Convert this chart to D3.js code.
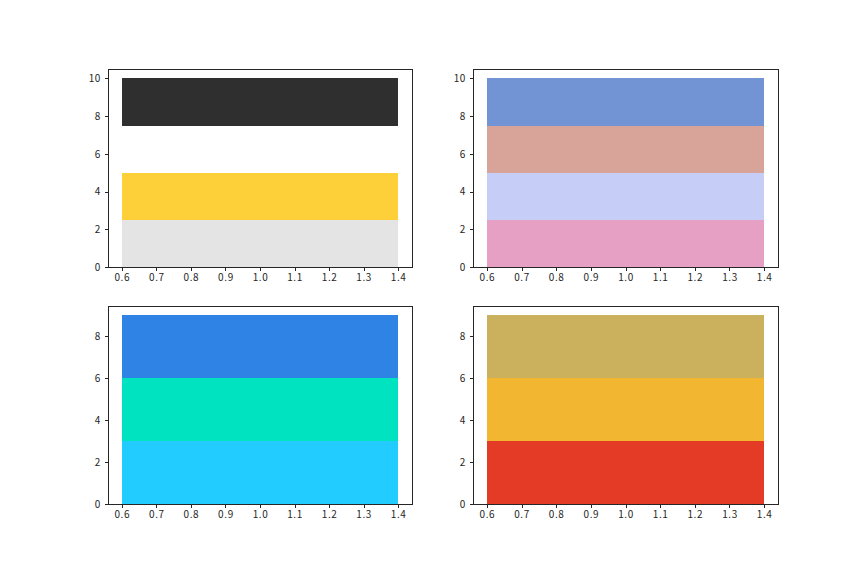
<!DOCTYPE html>
<html>
<head>
<meta charset="utf-8">
<script src="https://cdn.jsdelivr.net/npm/d3@7"></script>
<style>
  body { margin: 0; background: #fff; }
  .axis text { font-family: "Noto Sans CJK SC", "DejaVu Sans", sans-serif; font-size: 10px; fill: #262626; letter-spacing: 0.6px; }
  .axis line { stroke: #262626; shape-rendering: crispEdges; }
</style>
</head>
<body>
<div class="chart"></div>
<script>
// stacked segments of one bar (x = 1, width 0.8) per panel
var segA = [2.5, 2.5, 2.5, 2.5];
var colA = ["#e4e4e4", "#fdcf38", "#ffffff", "#2f2f2f"];
var segB = [2.5, 2.5, 2.5, 2.5];
var colB = ["#e6a0c4", "#c6cdf7", "#d8a499", "#7294d4"];
var segC = [3, 3, 3];
var colC = ["#22ccff", "#00e3c1", "#2f83e4"];
var segD = [3, 3, 3];
var colD = ["#e43b26", "#f2b631", "#cbb05e"];

var xTicks = [0.6, 0.7, 0.8, 0.9, 1.0, 1.1, 1.2, 1.3, 1.4];
var yTicksTop = [0, 2, 4, 6, 8, 10];
var yTicksBottom = [0, 2, 4, 6, 8];

var W = 864, H = 576;
var svg = d3.select(".chart").append("svg")
    .attr("width", W)
    .attr("height", H);

var cols = [[108, 412], [473, 778]];
var rows = [[69, 267], [306, 504]];

var panels = [
    {seg: segA, col: colA, c: 0, r: 0, yt: yTicksTop},
    {seg: segB, col: colB, c: 1, r: 0, yt: yTicksTop},
    {seg: segC, col: colC, c: 0, r: 1, yt: yTicksBottom},
    {seg: segD, col: colD, c: 1, r: 1, yt: yTicksBottom}
];

panels.forEach(function(p){
    var x0 = cols[p.c][0], x1 = cols[p.c][1];
    var y0 = rows[p.r][0], y1 = rows[p.r][1];

    var total = d3.sum(p.seg);
    var x = d3.scaleLinear().domain([0.56, 1.44]).range([x0, x1]);
    var y = d3.scaleLinear().domain([0, total * 1.05]).range([y1, y0]);

    var stacked = [];
    var acc = 0;
    p.seg.forEach(function(v, i){
        stacked.push({lo: acc, hi: acc + v, color: p.col[i]});
        acc += v;
    });

    var g = svg.append("g");

    g.selectAll("rect")
        .data(stacked)
        .enter().append("rect")
        .attr("x", x(0.6))
        .attr("width", x(1.4) - x(0.6))
        .attr("y", function(d){ return y(d.hi); })
        .attr("height", function(d){ return y(d.lo) - y(d.hi); })
        .attr("fill", function(d){ return d.color; })
        .attr("shape-rendering", "crispEdges");

    g.append("g")
        .attr("class", "axis")
        .attr("transform", "translate(0," + y1 + ")")
        .call(d3.axisBottom(x).tickValues(xTicks).tickSize(3.5).tickPadding(3.5)
            .tickFormat(d3.format(".1f")));

    g.append("g")
        .attr("class", "axis")
        .attr("transform", "translate(" + x0 + ",0)")
        .call(d3.axisLeft(y).tickValues(p.yt).tickSize(3.5).tickPadding(3.5)
            .tickFormat(d3.format("d")));

    g.append("rect")
        .attr("x", x0 + 0.5)
        .attr("y", y0 + 0.5)
        .attr("width", x1 - x0)
        .attr("height", y1 - y0)
        .attr("fill", "none")
        .attr("stroke", "#262626")
        .attr("stroke-width", 1)
        .attr("shape-rendering", "crispEdges");

    g.selectAll(".axis .domain").remove();
});
</script>
</body>
</html>
